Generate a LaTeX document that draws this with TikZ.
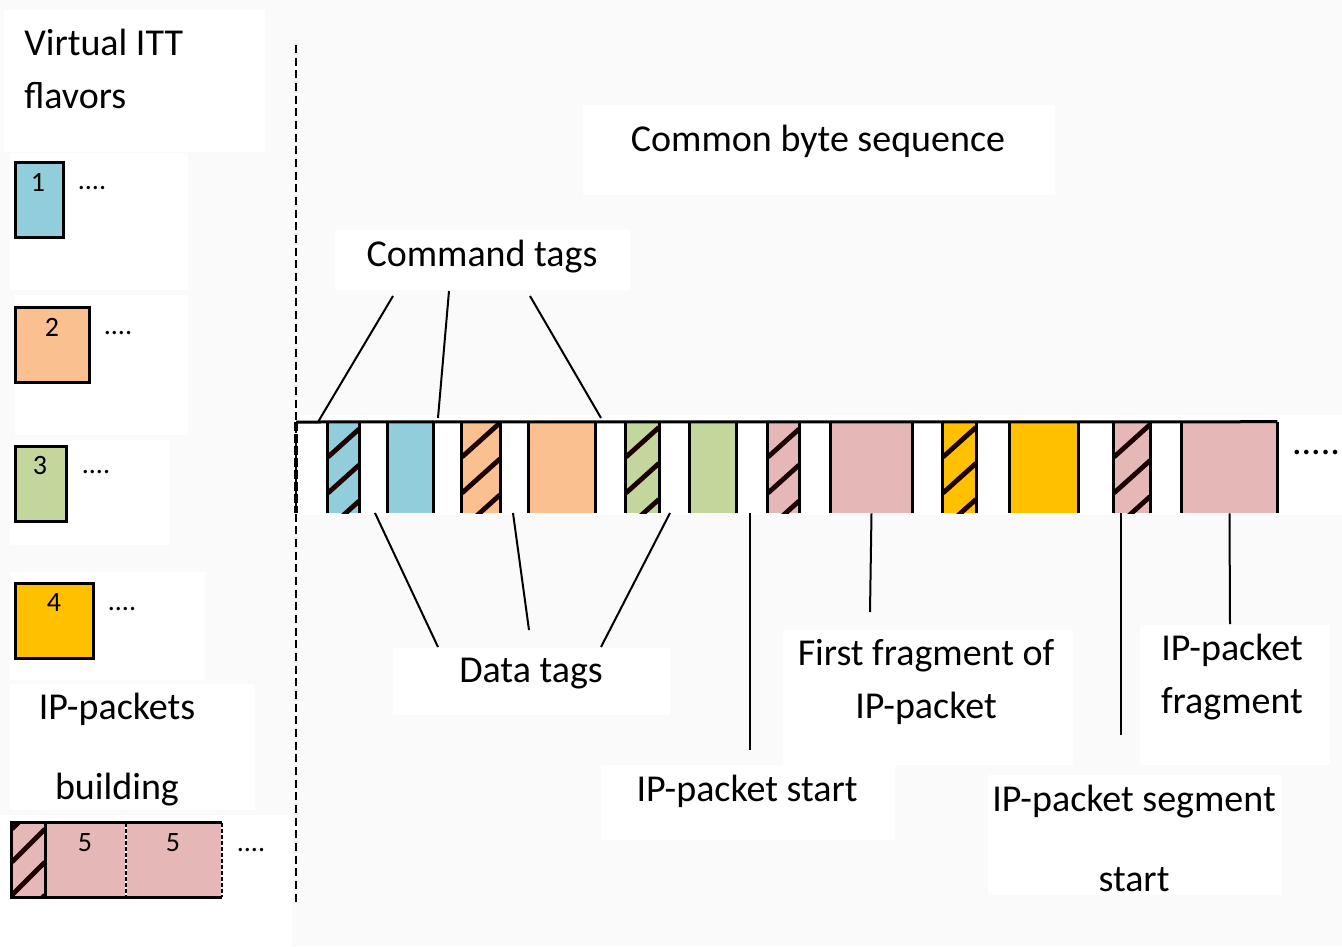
\documentclass[tikz,border=0pt]{standalone}
\usepackage{fontspec}
\setmainfont{Carlito}
\definecolor{cblue}{RGB}{146,205,220}
\definecolor{corange}{RGB}{250,192,144}
\definecolor{cgreen}{RGB}{195,214,155}
\definecolor{cyellow}{RGB}{255,192,0}
\definecolor{cpink}{RGB}{229,184,183}
\definecolor{bgc}{RGB}{250,250,250}
\definecolor{stripec}{RGB}{26,0,0}
\tikzset{
  lbl/.style={font=\fontsize{28.5}{39.75}\selectfont, inner sep=0pt, align=center},
  lbll/.style={font=\fontsize{28.5}{39.75}\selectfont, inner sep=0pt, align=left},
  lblwide/.style={font=\fontsize{28.5}{60}\selectfont, inner sep=0pt, align=center},
  small/.style={font=\fontsize{21}{25}\selectfont, inner sep=0pt},
  edge/.style={line width=2.25pt, draw=black},
  conn/.style={line width=1.5pt, draw=black},
  stripe/.style={line width=3.6pt, draw=stripec},
  wbox/.style={fill=white, draw=none},
}
% name, x0, x1, colour  (band tag, y 422..513)
\newcommand\tagbox[4]{%
  \node[draw=none, fill=#4, inner sep=0pt, minimum width={(#3-#2)*0.75pt},
        minimum height={91*0.75pt}] (#1) at ({(#2+#3)/2},467.5) {};
  \draw[edge] (#1.north west) -- (#1.south west) (#1.north east) -- (#1.south east);
}
\newcommand\stripetag[4]{%
  \node[draw=none, fill=#4, inner sep=0pt, minimum width={(#3-#2)*0.75pt},
        minimum height={91*0.75pt}] (#1) at ({(#2+#3)/2},467.5) {};
  \begin{scope}
    \clip (#1.south west) rectangle (#1.north east);
    \foreach \k in {0,...,3}
      \draw[stripe] (#2,{421+\k*36}) -- (#3,{421+\k*36-(#3-#2)*0.9});
  \end{scope}
  \draw[edge] (#1.north west) -- (#1.south west) (#1.north east) -- (#1.south east);
}
\begin{document}
\begin{tikzpicture}[x=0.75pt,y=-0.75pt]
\useasboundingbox (0,0) rectangle (1342,946);
\fill[bgc] (0,0) rectangle (1342,946);
% white text backgrounds
\fill[white] (4,10) rectangle (265,152);
\fill[white] (10,153) rectangle (188,290);
\fill[white] (15,295) rectangle (188,435);
\fill[white] (10,440) rectangle (170,545);
\fill[white] (10,572) rectangle (205,680);
\fill[white] (10,684) rectangle (255,810);
\fill[white] (0,815) rectangle (292,946);
\fill[white] (583,105) rectangle (1055,195);
\fill[white] (335,230) rectangle (630,290);
\fill[white] (393,648) rectangle (670,715);
\fill[white] (783,630) rectangle (1073,765);
\fill[white] (1140,625) rectangle (1330,765);
\fill[white] (601,765) rectangle (895,840);
\fill[white] (988,775) rectangle (1282,895);
\fill[white] (296,415) rectangle (1342,515);

% dashed separator
\coordinate (dtop) at (296,45);
\coordinate (dbot) at (296,905);
\draw[line width=1.6pt, dash pattern=on 6pt off 3.5pt] (dtop) -- (dbot);

% left legend
\node[lbll, anchor=west] (title) at (24,68.5) {Virtual ITT\\flavors};
\node[draw, edge, fill=cblue, inner sep=0pt, minimum width={48*0.75pt}, minimum height={75*0.75pt}] (f1) at (39,199.5) {};
\node[draw, edge, fill=corange, inner sep=0pt, minimum width={74*0.75pt}, minimum height={75*0.75pt}] (f2) at (52,344.5) {};
\node[draw, edge, fill=cgreen, inner sep=0pt, minimum width={51*0.75pt}, minimum height={75*0.75pt}] (f3) at (40.5,483.5) {};
\node[draw, edge, fill=cyellow, inner sep=0pt, minimum width={78*0.75pt}, minimum height={75*0.75pt}] (f4) at (54,620.5) {};
\node[small] (n1) at (38,182) {1};
\node[small] (n2) at (52,327) {2};
\node[small] (n3) at (40,466) {3};
\node[small] (n4) at (54,603) {4};
\node[small] (d1) at (92,188) {....};
\node[small] (d2) at (118,333) {....};
\node[small] (d3) at (96,472) {....};
\node[small] (d4) at (122,609) {....};
\node[lblwide] (ipb) at (117,750) {IP-packets\\building};

% IP packet building row
\node[draw=none, fill=cpink, inner sep=0pt, minimum width={33*0.75pt}, minimum height={74*0.75pt}] (p0) at (28.5,860) {};
\begin{scope}
  \clip (p0.south west) rectangle (p0.north east);
  \foreach \k in {0,...,3}
    \draw[stripe] (12,{829+\k*33}) -- (45,{829+\k*33-33});
\end{scope}
\node[draw=none, fill=cpink, inner sep=0pt, minimum width={81*0.75pt}, minimum height={74*0.75pt}] (p1) at (85.5,860) {};
\node[draw=none, fill=cpink, inner sep=0pt, minimum width={96*0.75pt}, minimum height={74*0.75pt}] (p2) at (174,860) {};
\draw[edge] (p2.north east) -- (p0.north west) -- (p0.south west) -- (p2.south east);
\draw[edge] (p0.north east) -- (p0.south east);
\draw[line width=1.5pt, white] (p1.north east) -- (p1.south east) (p2.north east) -- (p2.south east);
\draw[line width=1.5pt, dash pattern=on 3pt off 1.5pt] (p1.north east) -- (p1.south east) (p2.north east) -- (p2.south east);
\node[small] (n5a) at (85,843) {5};
\node[small] (n5b) at (173,843) {5};
\node[small] (d5) at (251,850) {....};

% common byte sequence band
\node[lbl] (cbs) at (818,141) {Common byte sequence};
\stripetag{t1}{328}{359}{cblue}
\tagbox{t2}{388}{433}{cblue}
\stripetag{t3}{462}{500}{corange}
\tagbox{t4}{529}{595}{corange}
\stripetag{t5}{626}{659}{cgreen}
\tagbox{t6}{690}{736}{cgreen}
\stripetag{t7}{768}{799}{cpink}
\tagbox{t8}{831}{912}{cpink}
\stripetag{t9}{943}{976}{cyellow}
\tagbox{t10}{1010}{1078}{cyellow}
\stripetag{t11}{1114}{1150}{cpink}
\tagbox{t12}{1182}{1277}{cpink}
\coordinate (bandL) at (296,422);
\coordinate (bandLb) at (296,513);
\draw[edge] (bandL) -- (t12.north east);
\draw[line width=2.4pt, dash pattern=on 7pt off 2pt] (bandL) -- (bandLb);
\node[lbl] (more) at (1316,452) {.....};

% labels
\node[lbl] (cmd) at (482,257) {Command tags};
\node[lbl] (data) at (531,674) {Data tags};
\node[lbl] (ipstart) at (747,791) {IP-packet start};
\node[lbl] (first) at (926,682) {First fragment of\\IP-packet};
\node[lbl] (frag) at (1232,677.5) {IP-packet\\fragment};
\node[lblwide] (seg) at (1134,838) {IP-packet segment\\start};

% connectors: command tags
\coordinate (c1a) at (393,296); \coordinate (c1b) at (318,422);
\coordinate (c2a) at (449,291); \coordinate (c2b) at (438,418);
\coordinate (c3a) at (530,296); \coordinate (c3b) at (601,418);
\draw[conn] (c1a) -- (c1b);
\draw[conn] (c2a) -- (c2b);
\draw[conn] (c3a) -- (c3b);
% data tags
\coordinate (e1a) at (375,513); \coordinate (e1b) at (438,647);
\coordinate (e2a) at (513,513); \coordinate (e2b) at (529,630);
\coordinate (e3a) at (670,513); \coordinate (e3b) at (601,647);
\draw[conn] (e1a) -- (e1b);
\draw[conn] (e2a) -- (e2b);
\draw[conn] (e3a) -- (e3b);
% verticals
\coordinate (v1a) at (750,513); \coordinate (v1b) at (750,750);
\coordinate (v2b) at (870,612);
\coordinate (v3a) at (1121,513); \coordinate (v3b) at (1121,735);
\coordinate (v4b) at (1230,624);
\draw[conn] (v1a) -- (v1b);
\draw[conn] (t8.south) -- (v2b);
\draw[conn] (v3a) -- (v3b);
\draw[conn] (t12.south) -- (v4b);
\end{tikzpicture}
\end{document}
